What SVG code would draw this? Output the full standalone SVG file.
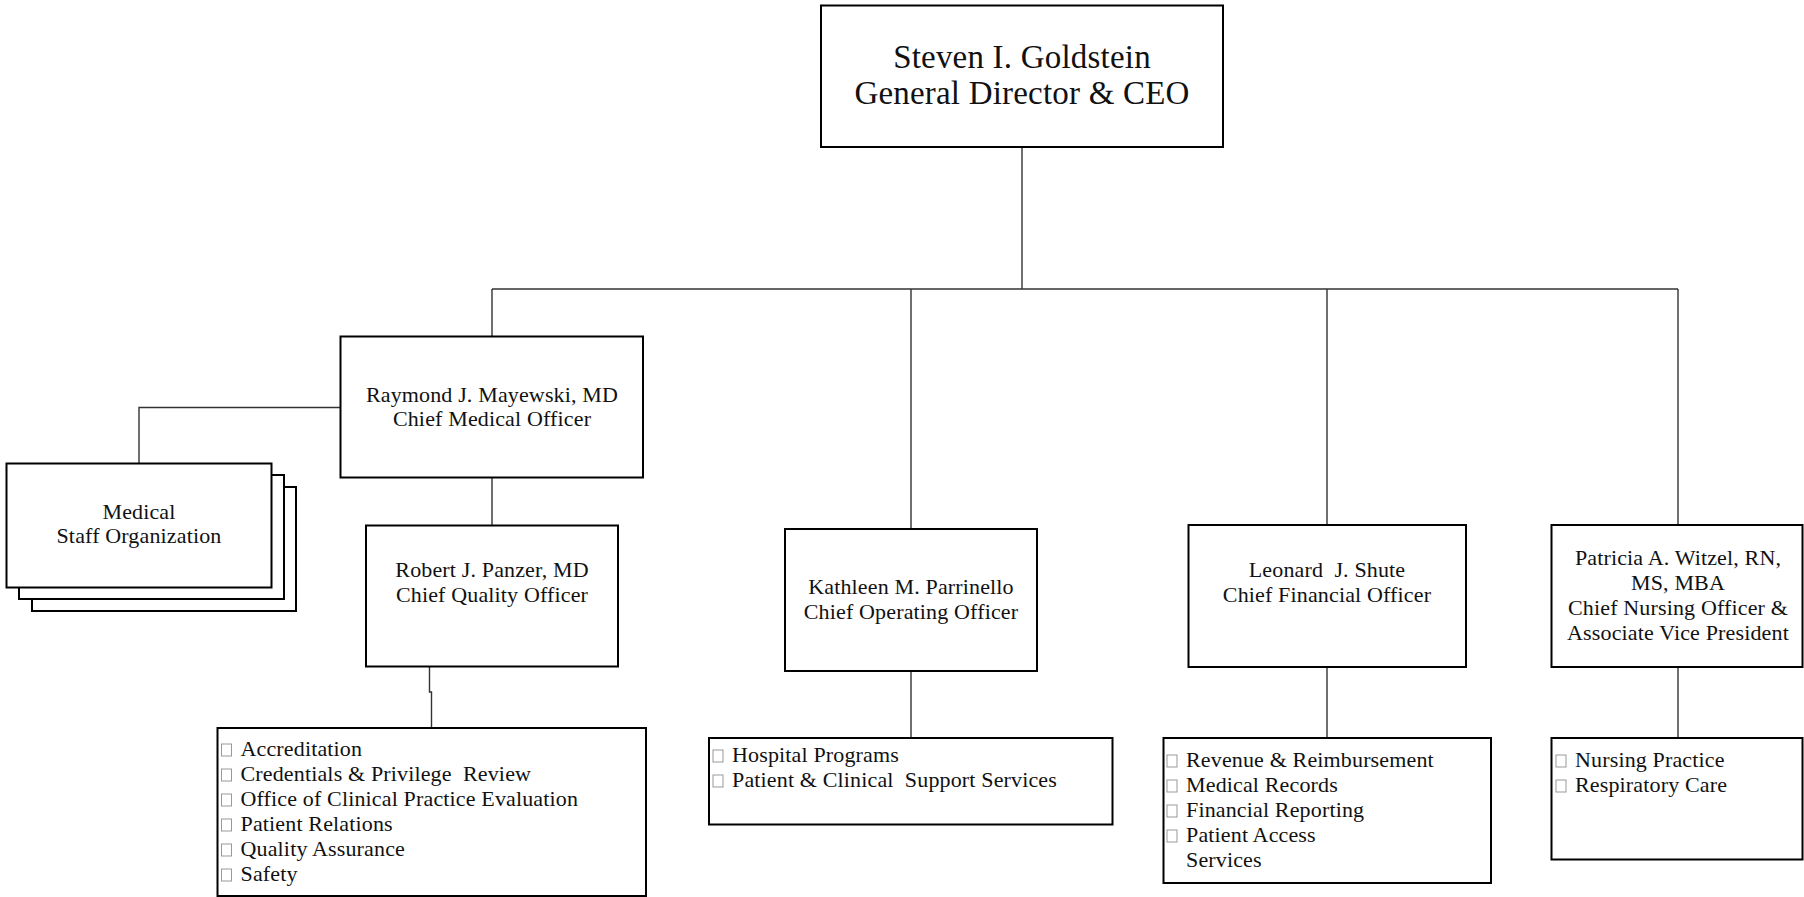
<svg xmlns="http://www.w3.org/2000/svg" width="1804" height="897" viewBox="0 0 1804 897">
<style>
  .box { fill: #fff; stroke: #000; stroke-width: 2; }
  .conn { fill: none; stroke: #333; stroke-width: 1.4; }
  text { font-family: "Liberation Serif", "Times New Roman", serif; fill: #111; }
  .big { font-size: 33px; text-anchor: middle; letter-spacing: 0.2px; }
  .t { font-size: 22px; text-anchor: middle; letter-spacing: 0.15px; }
  .li { font-size: 22px; white-space: pre; letter-spacing: 0.15px; }
  .bul { fill: none; stroke: #999; stroke-width: 1; }
</style>
<rect width="1804" height="897" fill="#fff"/>

<g id="connectors">
  <path class="conn" d="M1022,147 V289"/>
  <path class="conn" d="M492,289 H1678"/>
  <path class="conn" d="M492,289 V336.5"/>
  <path class="conn" d="M911,289 V529"/>
  <path class="conn" d="M1327,289 V525"/>
  <path class="conn" d="M1678,289 V525"/>
  <path class="conn" d="M340.5,407.5 H139 V463.5"/>
  <path class="conn" d="M492,477.5 V525.5"/>
  <path class="conn" d="M429.5,666.5 V692 H431.5 V728"/>
  <path class="conn" d="M911,671 V738"/>
  <path class="conn" d="M1327,667 V738"/>
  <path class="conn" d="M1678,667 V738"/>
</g>

<g id="ceo">
  <rect class="box" x="821" y="5.5" width="402" height="141.5"/>
  <text class="big" x="1022" y="68">Steven I. Goldstein</text>
  <text class="big" x="1022" y="104">General Director &amp; CEO</text>
</g>

<g id="cmo">
  <rect class="box" x="340.5" y="336.5" width="302.5" height="141"/>
  <text class="t" x="492" y="402">Raymond J. Mayewski, MD</text>
  <text class="t" x="492" y="426">Chief Medical Officer</text>
</g>

<g id="medical-staff">
  <rect class="box" x="32" y="487" width="264" height="124"/>
  <rect class="box" x="19" y="475" width="265" height="124"/>
  <rect class="box" x="6.5" y="463.5" width="265" height="124"/>
  <text class="t" x="139" y="519">Medical</text>
  <text class="t" x="139" y="543">Staff Organization</text>
</g>

<g id="cqo">
  <rect class="box" x="366" y="525.5" width="252" height="141"/>
  <text class="t" x="492" y="577">Robert J. Panzer, MD</text>
  <text class="t" x="492" y="602">Chief Quality Officer</text>
</g>

<g id="cqo-list">
  <rect class="box" x="217.5" y="728" width="428.5" height="168"/>
  <rect class="bul" x="221.5" y="744" width="10" height="12"/>
  <rect class="bul" x="221.5" y="769" width="10" height="12"/>
  <rect class="bul" x="221.5" y="794" width="10" height="12"/>
  <rect class="bul" x="221.5" y="819" width="10" height="12"/>
  <rect class="bul" x="221.5" y="844" width="10" height="12"/>
  <rect class="bul" x="221.5" y="869" width="10" height="12"/>
  <text class="li" x="240.5" y="756">Accreditation</text>
  <text class="li" x="240.5" y="781">Credentials &amp; Privilege  Review</text>
  <text class="li" x="240.5" y="806">Office of Clinical Practice Evaluation</text>
  <text class="li" x="240.5" y="831">Patient Relations</text>
  <text class="li" x="240.5" y="856">Quality Assurance</text>
  <text class="li" x="240.5" y="881">Safety</text>
</g>

<g id="coo">
  <rect class="box" x="785" y="529" width="252" height="142"/>
  <text class="t" x="911" y="593.5">Kathleen M. Parrinello</text>
  <text class="t" x="911" y="618.5">Chief Operating Officer</text>
</g>

<g id="coo-list">
  <rect class="box" x="709" y="738" width="403.5" height="86.5"/>
  <rect class="bul" x="713" y="750" width="10" height="12"/>
  <rect class="bul" x="713" y="775" width="10" height="12"/>
  <text class="li" x="732" y="762">Hospital Programs</text>
  <text class="li" x="732" y="787">Patient &amp; Clinical  Support Services</text>
</g>

<g id="cfo">
  <rect class="box" x="1188.5" y="525" width="277.5" height="142"/>
  <text class="t" x="1327" y="577" style="white-space:pre">Leonard  J. Shute</text>
  <text class="t" x="1327" y="602">Chief Financial Officer</text>
</g>

<g id="cfo-list">
  <rect class="box" x="1163.5" y="738" width="327.5" height="145"/>
  <rect class="bul" x="1167" y="755" width="10" height="12"/>
  <rect class="bul" x="1167" y="780" width="10" height="12"/>
  <rect class="bul" x="1167" y="805" width="10" height="12"/>
  <rect class="bul" x="1167" y="830" width="10" height="12"/>
  <text class="li" x="1186" y="767">Revenue &amp; Reimbursement</text>
  <text class="li" x="1186" y="792">Medical Records</text>
  <text class="li" x="1186" y="817">Financial Reporting</text>
  <text class="li" x="1186" y="842">Patient Access</text>
  <text class="li" x="1186" y="867">Services</text>
</g>

<g id="cno">
  <rect class="box" x="1551.5" y="525" width="251" height="142"/>
  <text class="t" x="1678" y="565">Patricia A. Witzel, RN,</text>
  <text class="t" x="1678" y="590">MS, MBA</text>
  <text class="t" x="1678" y="615">Chief Nursing Officer &amp;</text>
  <text class="t" x="1678" y="640">Associate Vice President</text>
</g>

<g id="cno-list">
  <rect class="box" x="1551.5" y="738" width="251" height="121.5"/>
  <rect class="bul" x="1556" y="755" width="10" height="12"/>
  <rect class="bul" x="1556" y="780" width="10" height="12"/>
  <text class="li" x="1575" y="767">Nursing Practice</text>
  <text class="li" x="1575" y="792">Respiratory Care</text>
</g>
</svg>
